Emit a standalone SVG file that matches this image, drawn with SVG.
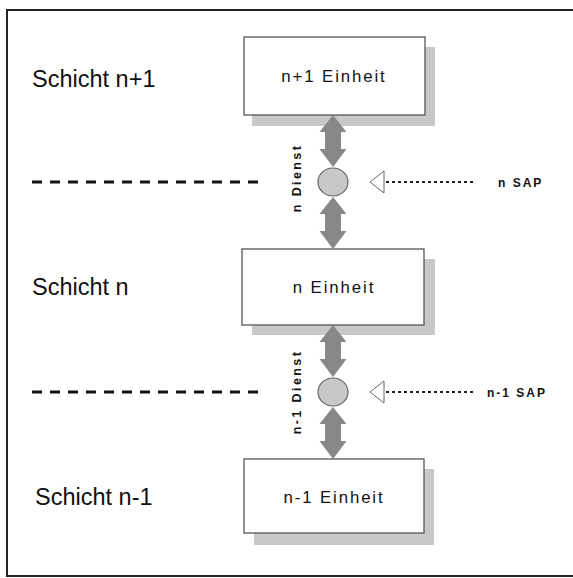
<svg xmlns="http://www.w3.org/2000/svg" width="573" height="578" viewBox="0 0 573 578">
<style>
.box{fill:#fff;stroke:#555;stroke-width:1.3}
.shadow{fill:#c8c8c8}
.lbl{font-family:"Liberation Sans",Arial,sans-serif;font-size:16.8px;letter-spacing:1.9px;fill:#111;text-anchor:middle}
.layer{font-family:"Liberation Sans",Arial,sans-serif;font-size:23.5px;fill:#111}
.small{font-family:"Liberation Sans",Arial,sans-serif;font-size:12px;font-weight:bold;letter-spacing:2px;fill:#111}
.dienst{font-family:"Liberation Sans",Arial,sans-serif;font-size:12.5px;font-weight:bold;letter-spacing:2.4px;fill:#111;text-anchor:middle}
.arrow{fill:#888}
.sap{fill:#c8c8c8;stroke:#666;stroke-width:1.2}
.dash{stroke:#111;stroke-width:3;stroke-dasharray:10 8;fill:none}
.dot{stroke:#222;stroke-width:2.2;stroke-dasharray:3 3;fill:none}
.tri{fill:#fff;stroke:#666;stroke-width:1}
</style>
<rect width="573" height="578" fill="#fff"/>
<path d="M573 10 H7 V576 H573" fill="none" stroke="#222" stroke-width="2"/>
<text class="layer" x="32" y="87">Schicht n+1</text>
<text class="layer" x="32" y="295">Schicht n</text>
<text class="layer" x="35" y="505">Schicht n-1</text>
<g id="unit-n1">
<rect class="shadow" x="252" y="47" width="183" height="79"/>
<rect class="box" x="244" y="37" width="181" height="78"/>
<text class="lbl" x="334" y="82">n+1 Einheit</text>
</g>
<g id="unit-n">
<rect class="shadow" x="252" y="259" width="183" height="76"/>
<rect class="box" x="242" y="249" width="182" height="76"/>
<text class="lbl" x="334" y="293">n Einheit</text>
</g>
<g id="unit-n-1">
<rect class="shadow" x="254" y="469" width="180" height="76"/>
<rect class="box" x="244" y="459" width="180" height="74"/>
<text class="lbl" x="334" y="503">n-1 Einheit</text>
</g>
<g id="sap-n">
<ellipse class="sap" cx="333" cy="182" rx="15" ry="14"/>
</g>
<g id="sap-n-1">
<ellipse class="sap" cx="333" cy="392" rx="15" ry="14"/>
</g>
<g id="connectors">
<polygon class="arrow" points="333,115 346.5,132 341,132 341,149 346.5,149 333,167 319.5,149 325,149 325,132 319.5,132"/>
<polygon class="arrow" points="333,197 346.5,214 341,214 341,231 346.5,231 333,249 319.5,231 325,231 325,214 319.5,214"/>
<polygon class="arrow" points="333,325 346.5,342 341,342 341,359 346.5,359 333,377 319.5,359 325,359 325,342 319.5,342"/>
<polygon class="arrow" points="333,407 346.5,424 341,424 341,441 346.5,441 333,459 319.5,441 325,441 325,424 319.5,424"/>
<line class="dash" x1="32" y1="182" x2="258" y2="182"/>
<line class="dash" x1="32" y1="392" x2="258" y2="392"/>
<line class="dot" x1="386" y1="182" x2="473" y2="182"/>
<polygon class="tri" points="370,182 384,171 384,193"/>
<line class="dot" x1="386" y1="392" x2="476" y2="392"/>
<polygon class="tri" points="370,392 384,381 384,403"/>
</g>
<text class="small" x="498" y="187">n SAP</text>
<text class="small" x="487" y="397">n-1 SAP</text>
<text class="dienst" transform="translate(301,178) rotate(-90)">n Dienst</text>
<text class="dienst" transform="translate(301,392) rotate(-90)">n-1 Dienst</text>
</svg>
